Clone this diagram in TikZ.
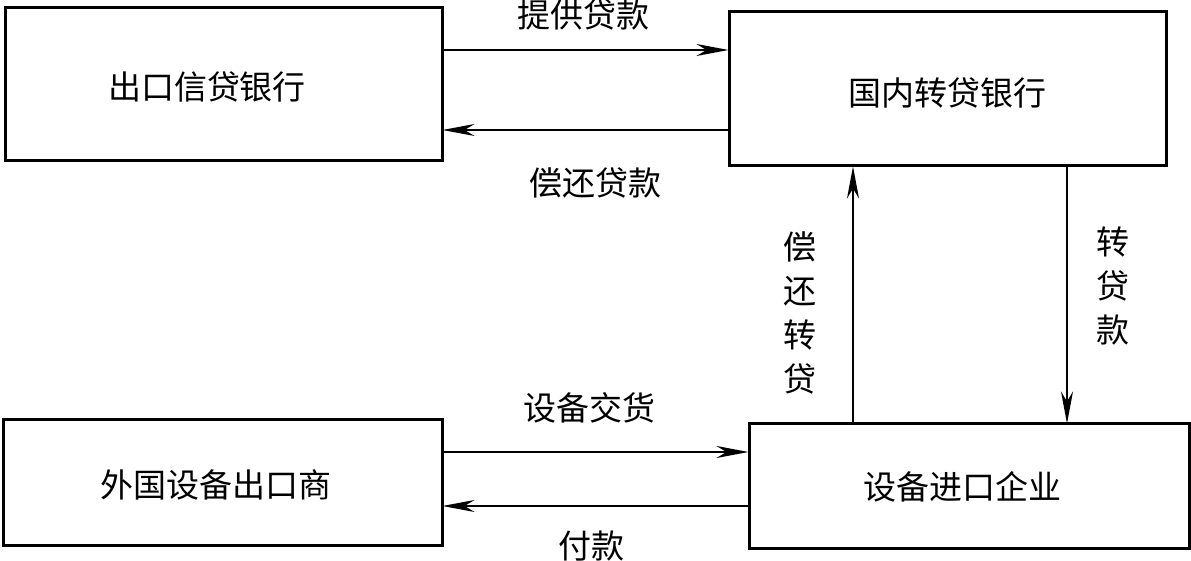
\documentclass[tikz,border=0pt]{standalone}
\usepackage{fontspec}
\usepackage{tikz}
\usetikzlibrary{arrows.meta}
\newfontfamily\cjk{Noto Sans CJK SC}

\begin{document}
\begin{tikzpicture}[x=0.5pt, y=-0.5pt, font=\cjk\fontsize{16.5pt}{22pt}\selectfont,
        box/.style={draw, line width=1.5pt, inner sep=0pt},
        flow/.style={-{Stealth[length=16pt, width=6pt, inset=5pt]}, line width=1pt, shorten >=-0.5pt}]
        \useasboundingbox (0,0) rectangle (1191,561);

        % Riquadri dei quattro soggetti
        \node[box, minimum width=218.5pt, minimum height=76.5pt] (ecb) at (223.5, 84.5) {};
        \node[box, minimum width=218.5pt, minimum height=77pt] (dtb) at (947.5, 89) {};
        \node[box, minimum width=219.5pt, minimum height=63pt] (fex) at (222.5, 483) {};
        \node[box, minimum width=220pt, minimum height=62.5pt] (imp) at (969, 486.5) {};

        \node (ecbt) at (207, 87) {出口信贷银行};
        \node (dtbt) at (947, 93) {国内转贷银行};
        \node (fext) at (216, 485) {外国设备出口商};
        \node (impt) at (962, 487) {设备进口企业};

        \draw[flow] (ecb.east |- 0,50) -- (dtb.west |- 0,50);
        \draw[flow] (dtb.west |- 0,130) -- (ecb.east |- 0,130);
        \draw[flow] (imp.north -| 853,0) -- (dtb.south -| 853,0);
        \draw[flow] (dtb.south -| 1067,0) -- (imp.north -| 1067,0);
        \draw[flow] (fex.east |- 0,452) -- (imp.west |- 0,452);
        \draw[flow] (imp.west |- 0,506) -- (fex.east |- 0,506);

        \node (lend) at (583, 15) {提供贷款};
        \node (repay) at (595, 183) {偿还贷款};
        \node[align=center] (repaysub) at (800, 313) {偿\\还\\转\\贷};
        \node[align=center] (sublend) at (1113, 286) {转\\贷\\款};
        \node (deliver) at (589, 408) {设备交货};
        \node (pay) at (591, 546) {付款};
    \end{tikzpicture}
\end{document}
